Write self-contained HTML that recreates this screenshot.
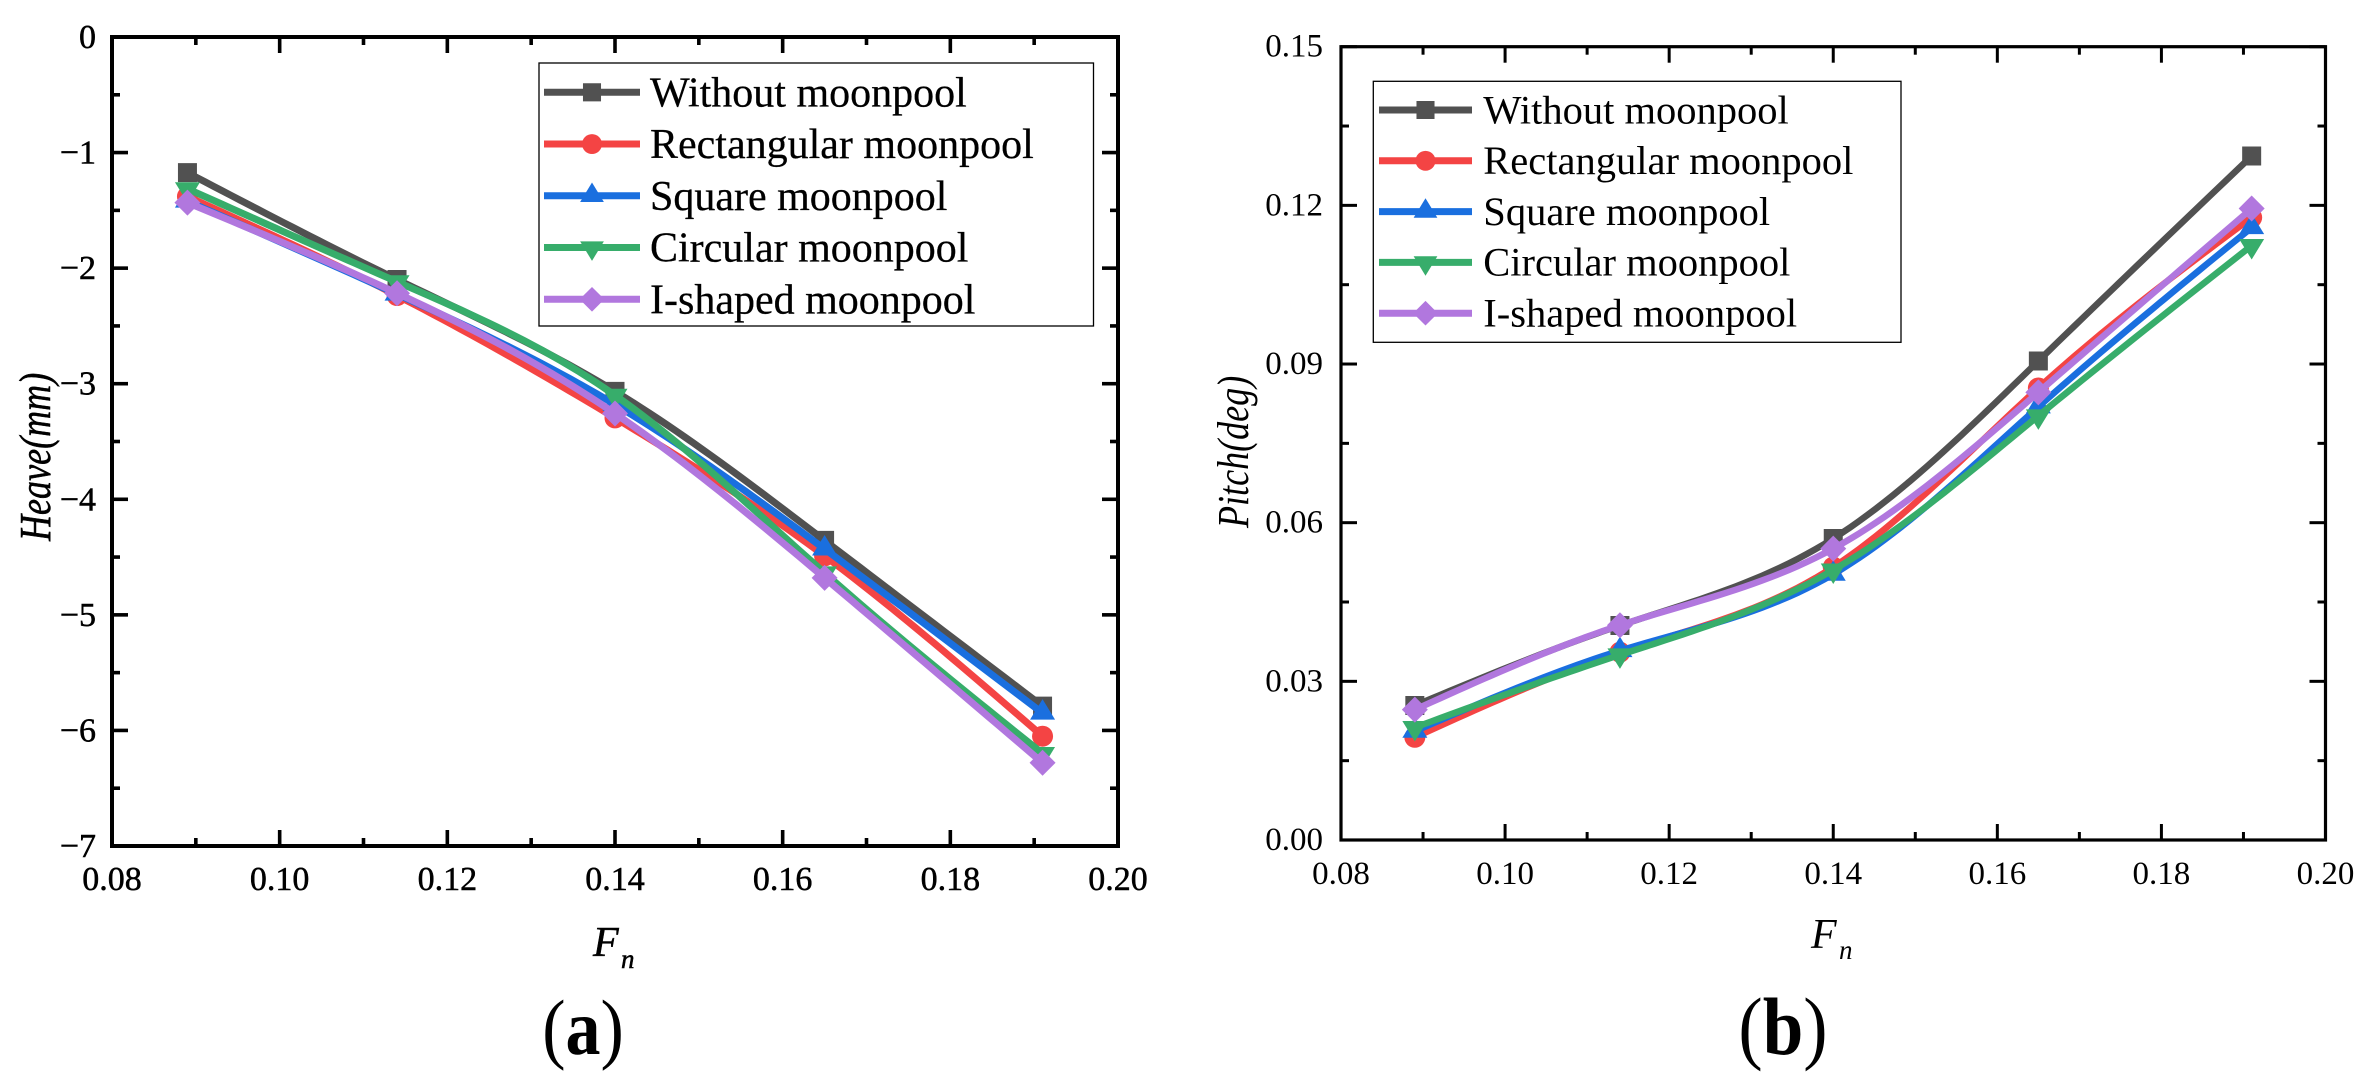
<!DOCTYPE html>
<html lang="en">
<head>
<meta charset="utf-8">
<title>Heave and pitch versus Froude number</title>
<style>
html,body{margin:0;padding:0;background:#fff;width:2369px;height:1091px;overflow:hidden}
svg{display:block}
text{font-family:"Liberation Serif",serif;fill:#000}
</style>
</head>
<body>
<svg id="fig" xmlns="http://www.w3.org/2000/svg" width="2369" height="1091" viewBox="0 0 2369 1091">
  <g id="panelA"></g>
  <g id="panelB"></g>
</svg>
<script>
// ---------- data ----------
const froude = [0.089, 0.114, 0.14, 0.165, 0.191];
const seriesNames = ['Without moonpool', 'Rectangular moonpool', 'Square moonpool', 'Circular moonpool', 'I-shaped moonpool'];
const seriesColors = ['#515151', '#F44444', '#1A6FDF', '#37AD6B', '#B177DE'];
const seriesMarkers = ['square', 'circle', 'up', 'down', 'diamond'];

const heaveWithout = [-1.174, -2.098, -3.066, -4.356, -5.79];
const heaveRect = [-1.38, -2.237, -3.296, -4.49, -6.05];
const heaveSquare = [-1.42, -2.225, -3.18, -4.43, -5.85];
const heaveCircular = [-1.313, -2.118, -3.10, -4.637, -6.2];
const heaveIShaped = [-1.433, -2.217, -3.258, -4.68, -6.28];

const pitchWithout = [0.02543, 0.04056, 0.0570, 0.09057, 0.12933];
const pitchRect = [0.01942, 0.0355, 0.0516, 0.08547, 0.1177];
const pitchSquare = [0.02057, 0.0358, 0.05026, 0.0819, 0.1158];
const pitchCircular = [0.02127, 0.0350, 0.05105, 0.0802, 0.1124];
const pitchIShaped = [0.02464, 0.0406, 0.0551, 0.08465, 0.1194];

const xTicks = [0.08, 0.10, 0.12, 0.14, 0.16, 0.18, 0.20];
const xMinorTicks = [0.09, 0.11, 0.13, 0.15, 0.17, 0.19];
const xTickLabels = ['0.08', '0.10', '0.12', '0.14', '0.16', '0.18', '0.20'];
const heaveTicks = [0, -1, -2, -3, -4, -5, -6, -7];
const heaveMinorTicks = [-0.5, -1.5, -2.5, -3.5, -4.5, -5.5, -6.5];
const heaveTickLabels = ['0', '\u22121', '\u22122', '\u22123', '\u22124', '\u22125', '\u22126', '\u22127'];
const pitchTicks = [0, 0.03, 0.06, 0.09, 0.12, 0.15];
const pitchMinorTicks = [0.015, 0.045, 0.075, 0.105, 0.135];
const pitchTickLabels = ['0.00', '0.03', '0.06', '0.09', '0.12', '0.15'];

const heaveSeries = [heaveWithout, heaveRect, heaveSquare, heaveCircular, heaveIShaped];
const pitchSeries = [pitchWithout, pitchRect, pitchSquare, pitchCircular, pitchIShaped];

// ---------- helpers ----------
const NS = 'http://www.w3.org/2000/svg';
function make(tag, parent) {
  const el = document.createElementNS(NS, tag);
  parent.appendChild(el);
  return el;
}

// natural cubic spline through the points, output as an SVG path
function splinePath(px, py) {
  const n = px.length;
  const h = [], alpha = [0], l = [1], mu = [0], z = [0];
  for (let i = 0; i < n - 1; i++) h.push(px[i + 1] - px[i]);
  for (let i = 1; i < n - 1; i++) {
    alpha[i] = 3 / h[i] * (py[i + 1] - py[i]) - 3 / h[i - 1] * (py[i] - py[i - 1]);
    l[i] = 2 * (px[i + 1] - px[i - 1]) - h[i - 1] * mu[i - 1];
    mu[i] = h[i] / l[i];
    z[i] = (alpha[i] - h[i - 1] * z[i - 1]) / l[i];
  }
  const c = new Array(n).fill(0);
  for (let j = n - 2; j >= 1; j--) c[j] = z[j] - mu[j] * c[j + 1];
  let d = 'M' + px[0].toFixed(2) + ' ' + py[0].toFixed(2);
  for (let i = 0; i < n - 1; i++) {
    const b = (py[i + 1] - py[i]) / h[i] - h[i] * (c[i + 1] + 2 * c[i]) / 3;
    const dd = (c[i + 1] - c[i]) / (3 * h[i]);
    for (let s = 1; s <= 24; s++) {
      const t = h[i] * s / 24;
      const v = py[i] + b * t + c[i] * t * t + dd * t * t * t;
      d += 'L' + (px[i] + t).toFixed(2) + ' ' + v.toFixed(2);
    }
  }
  return d;
}

function drawMarker(parent, kind, cx, cy, color, k) {
  let el;
  if (kind === 'circle') {
    el = make('circle', parent);
    el.setAttribute('cx', cx);
    el.setAttribute('cy', cy);
    el.setAttribute('r', 10.5 * k);
  } else {
    el = make('path', parent);
    let d = '';
    if (kind === 'square') {
      const s = 9.5 * k;
      d = `M${cx - s} ${cy - s}H${cx + s}V${cy + s}H${cx - s}Z`;
    } else if (kind === 'up') {
      d = `M${cx} ${cy - 14 * k}L${cx + 12.5 * k} ${cy + 6.5 * k}H${cx - 12.5 * k}Z`;
    } else if (kind === 'down') {
      d = `M${cx} ${cy + 14 * k}L${cx + 12.5 * k} ${cy - 6.5 * k}H${cx - 12.5 * k}Z`;
    } else {
      const s = 13 * k;
      d = `M${cx} ${cy - s}L${cx + s} ${cy}L${cx} ${cy + s}L${cx - s} ${cy}Z`;
    }
    el.setAttribute('d', d);
  }
  el.setAttribute('fill', color);
  
  
}

function drawChart(root, c) {
  const xs = v => c.left + (v - c.xMin) / (c.xMax - c.xMin) * (c.right - c.left);
  const ys = v => c.bottom - (v - c.yMin) / (c.yMax - c.yMin) * (c.bottom - c.top);

  // series
  c.series.forEach((vals, s) => {
    const g = make('g', root);
    
    
    const line = make('path', g);
    
    
    line.setAttribute('d', splinePath(froude.map(xs), vals.map(ys)));
    line.setAttribute('fill', 'none');
    line.setAttribute('stroke', seriesColors[s]);
    line.setAttribute('stroke-width', c.lineWidth);
    froude.forEach((f, i) => drawMarker(g, seriesMarkers[s], xs(f), ys(vals[i]), seriesColors[s], 1));
  });

  // ticks on all four sides
  const addTicks = (vals, len, isX) => vals.forEach(v => {
    [0, 1].forEach(side => {
      const t = make('line', root);
      
      
      t.setAttribute('stroke', '#000');
      t.setAttribute('stroke-width', c.tickWidth);
      if (isX) {
        const y0 = side ? c.top : c.bottom;
        const dir = side ? 1 : -1;
        t.setAttribute('x1', xs(v));
        t.setAttribute('x2', xs(v));
        t.setAttribute('y1', y0);
        t.setAttribute('y2', y0 + dir * len);
      } else {
        const x0 = side ? c.right : c.left;
        const dir = side ? -1 : 1;
        t.setAttribute('y1', ys(v));
        t.setAttribute('y2', ys(v));
        t.setAttribute('x1', x0);
        t.setAttribute('x2', x0 + dir * len);
      }
    });
  });
  addTicks(xTicks, 16, true);
  addTicks(xMinorTicks, 8, true);
  addTicks(c.yTicks, 16, false);
  addTicks(c.yMinor, 8, false);

  // frame
  const frame = make('rect', root);
  
  
  frame.setAttribute('x', c.left);
  frame.setAttribute('y', c.top);
  frame.setAttribute('width', c.right - c.left);
  frame.setAttribute('height', c.bottom - c.top);
  frame.setAttribute('fill', 'none');
  frame.setAttribute('stroke', '#000');
  frame.setAttribute('stroke-width', c.axisWidth);

  // tick labels
  xTicks.forEach((v, i) => {
    const t = make('text', root);
    
    
    t.setAttribute('x', xs(v));
    t.setAttribute('y', c.xLabelBase);
    t.setAttribute('text-anchor', 'middle');
    t.setAttribute('font-size', c.tickFont);
    t.setAttribute('stroke', '#000');
    t.setAttribute('stroke-width', c.textWeight);
    t.textContent = xTickLabels[i];
  });
  c.yTicks.forEach((v, i) => {
    const t = make('text', root);
    
    
    t.setAttribute('x', c.yLabelX);
    t.setAttribute('y', ys(v) + c.yLabelDy);
    t.setAttribute('text-anchor', 'end');
    t.setAttribute('font-size', c.tickFont);
    t.setAttribute('stroke', '#000');
    t.setAttribute('stroke-width', c.textWeight);
    t.textContent = c.yLabels[i];
  });

  // y title (condensed along its length, as in the reference)
  const yt = make('text', root);
  
  
  yt.setAttribute('transform', `translate(${c.yTitleX} ${c.yTitleY}) rotate(-90) scale(0.82 1)`);
  yt.setAttribute('font-size', 44);
  yt.setAttribute('font-style', 'italic');
  yt.setAttribute('stroke', '#000');
  yt.setAttribute('stroke-width', c.textWeight);
  yt.textContent = c.yTitle;

  // x title
  const f = make('text', root);
  
  
  f.setAttribute('x', c.fX);
  f.setAttribute('y', c.fY);
  f.setAttribute('font-size', 42);
  f.setAttribute('font-style', 'italic');
  f.setAttribute('stroke', '#000');
  f.setAttribute('stroke-width', c.textWeight);
  f.textContent = 'F';
  const n = make('text', root);
  
  
  n.setAttribute('x', c.nX);
  n.setAttribute('y', c.nY);
  n.setAttribute('font-size', 27);
  n.setAttribute('font-style', 'italic');
  n.setAttribute('stroke', '#000');
  n.setAttribute('stroke-width', c.textWeight);
  n.textContent = 'n';

  // legend
  const lg = make('g', root);
  
  
  const box = make('rect', lg);
  
  
  box.setAttribute('x', c.legend.x);
  box.setAttribute('y', c.legend.y);
  box.setAttribute('width', c.legend.w);
  box.setAttribute('height', c.legend.h);
  box.setAttribute('fill', '#fff');
  box.setAttribute('stroke', '#000');
  box.setAttribute('stroke-width', 1.3);
  seriesNames.forEach((name, s) => {
    const e = make('g', lg);
    
    
    const ry = c.legend.row0 + s * c.legend.rowGap;
    const ln = make('line', e);
    
    
    ln.setAttribute('x1', c.legend.lineX1);
    ln.setAttribute('x2', c.legend.lineX2);
    ln.setAttribute('y1', ry);
    ln.setAttribute('y2', ry);
    ln.setAttribute('stroke', seriesColors[s]);
    ln.setAttribute('stroke-width', 7);
    drawMarker(e, seriesMarkers[s], (c.legend.lineX1 + c.legend.lineX2) / 2, ry, seriesColors[s], 0.95);
    const t = make('text', e);
    
    
    t.setAttribute('x', c.legend.textX);
    t.setAttribute('y', ry + c.legend.textDy);
    t.setAttribute('font-size', c.legend.font);
    t.setAttribute('stroke', '#000');
    t.setAttribute('stroke-width', c.textWeight / 2);
    t.textContent = name;
  });

  // panel caption (slightly taller than wide, as in the reference)
  const cap = make('text', root);
  
  
  cap.setAttribute('transform', `translate(${c.capX} 1054) scale(1 1.12)`);
  cap.setAttribute('text-anchor', 'middle');
  cap.setAttribute('font-size', c.capFont);
  const o = make('tspan', cap);
  o.textContent = '(';
  const b = make('tspan', cap);
  b.setAttribute('font-weight', 'bold');
  b.textContent = c.capLetter;
  const e2 = make('tspan', cap);
  e2.textContent = ')';
}

drawChart(document.getElementById('panelA'), {
  left: 112, right: 1118, top: 37, bottom: 846,
  xMin: 0.08, xMax: 0.20, yMin: -7, yMax: 0,
  series: heaveSeries, yTicks: heaveTicks, yMinor: heaveMinorTicks, yLabels: heaveTickLabels,
  lineWidth: 7, axisWidth: 4, tickWidth: 3.6, tickFont: 34, textWeight: 0.5,
  xLabelBase: 890, yLabelX: 96, yLabelDy: 11,
  yTitle: 'Heave(mm)', yTitleX: 50, yTitleY: 541,
  fX: 593, fY: 956, nX: 621, nY: 968,
  legend: { x: 539, y: 63, w: 554.5, h: 263, row0: 92.3, rowGap: 51.75, lineX1: 544, lineX2: 640, textX: 650, textDy: 14, font: 42 },
  capX: 583, capLetter: 'a', capFont: 70
});

drawChart(document.getElementById('panelB'), {
  left: 1341, right: 2325.5, top: 46.7, bottom: 840,
  xMin: 0.08, xMax: 0.20, yMin: 0, yMax: 0.15,
  series: pitchSeries, yTicks: pitchTicks, yMinor: pitchMinorTicks, yLabels: pitchTickLabels,
  lineWidth: 6.5, axisWidth: 3.2, tickWidth: 3, tickFont: 33, textWeight: 0,
  xLabelBase: 884, yLabelX: 1323, yLabelDy: 10,
  yTitle: 'Pitch(deg)', yTitleX: 1248, yTitleY: 528,
  fX: 1811, fY: 948, nX: 1839, nY: 959,
  legend: { x: 1373.3, y: 81.3, w: 527.7, h: 261, row0: 110, rowGap: 50.8, lineX1: 1379, lineX2: 1472, textX: 1483.3, textDy: 13.3, font: 40.5 },
  capX: 1783, capLetter: 'b', capFont: 73
});
</script>
</body>
</html>
